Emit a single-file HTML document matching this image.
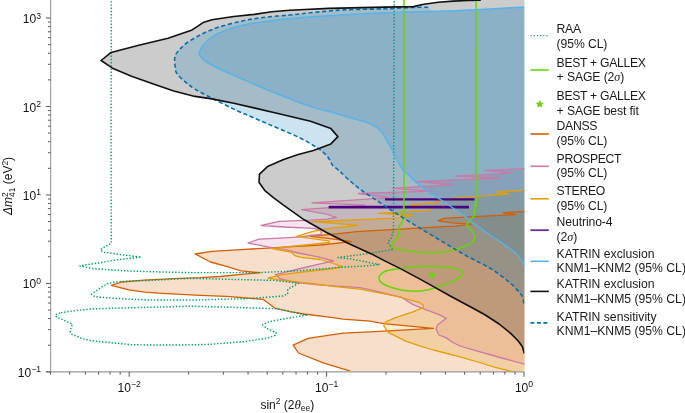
<!DOCTYPE html>
<html><head><meta charset="utf-8"><style>
html,body{margin:0;padding:0;background:#fff;width:685px;height:413px;overflow:hidden}
svg{display:block;will-change:transform}
</style></head><body>
<svg width="685" height="413" viewBox="0 0 685 413">
<defs><clipPath id="pc"><rect x="51" y="0" width="473.4" height="371.8"/></clipPath></defs>
<g clip-path="url(#pc)">
<path d="M525.0,168.7 L484.4,170.4 L511.2,173.0 L455.3,176.1 L499.7,178.0 L416.2,181.6 L453.0,184.5 L392.0,188.3 L431.5,191.1 L358.3,193.5 L389.0,197.6 L311.9,202.8 L365.0,205.2 L301.7,209.7 L311.9,211.6 L326.5,214.1 L336.5,217.6 L326.0,219.2 L310.7,220.2 L279.4,221.4 L261.2,225.5 L283.8,227.0 L313.7,228.4 L320.9,230.4 L321.3,234.3 L310.7,235.5 L300.4,236.8 L280.0,238.1 L259.0,239.1 L248.0,243.0 L269.2,247.1 L283.8,249.3 L298.4,253.0 L320.3,257.3 L333.4,261.0 L320.3,263.9 L298.4,269.0 L283.8,272.7 L275.3,274.6 L280.4,279.0 L296.5,282.6 L318.4,284.8 L360.0,287.7 L373.0,290.4 L401.3,297.3 L413.0,304.6 L427.6,310.4 L439.0,314.7 L446.3,318.3 L437.6,324.9 L436.1,329.2 L439.0,335.0 L446.3,337.9 L452.0,342.0 L460.0,346.0 L473.9,350.2 L500.0,357.5 L525.0,364.3 L525,373 Z" fill="#CC79A7" fill-opacity="0.2"/>
<path d="M525.0,190.1 L496.5,192.0 L508.9,193.8 L496.6,194.8 L455.3,197.8 L439.9,200.6 L433.8,202.9 L409.6,204.6 L428.0,207.8 L430.0,210.2 L411.8,211.4 L395.7,212.4 L378.2,213.4 L400.0,214.6 L412.5,215.3 L395.7,218.2 L359.2,219.7 L330.0,221.0 L311.9,221.6 L333.8,223.3 L357.4,225.4 L330.9,228.1 L320.7,229.7 L310.4,232.2 L296.6,236.3 L310.4,238.3 L328.8,240.9 L329.3,242.4 L310.4,244.5 L290.0,246.5 L272.1,248.6 L283.8,250.8 L291.1,252.2 L295.5,255.9 L301.3,257.3 L320.3,259.5 L333.0,263.5 L342.5,266.6 L333.0,268.5 L311.1,271.0 L281.9,274.6 L268.0,278.2 L281.9,280.4 L311.1,283.4 L333.0,286.3 L360.0,289.2 L398.4,296.6 L418.7,302.3 L423.5,305.2 L423.1,307.6 L413.0,311.9 L395.5,317.7 L385.3,322.1 L383.8,325.8 L388.2,332.3 L405.7,341.1 L420.3,346.2 L433.4,350.0 L460.0,356.8 L481.2,363.0 L495.3,367.4 L509.5,370.9 L514.8,372.2 L516.0,373.0 L525.0,373.0 Z" fill="#E69F00" fill-opacity="0.2"/>
<path d="M525.0,211.3 L503.0,212.8 L515.0,214.7 L468.8,216.8 L444.0,218.3 L438.1,220.8 L454.2,223.2 L471.0,224.1 L454.2,226.2 L425.0,227.6 L388.4,229.9 L359.2,231.4 L336.0,233.8 L310.4,236.3 L336.0,239.4 L351.3,241.6 L320.7,245.0 L283.8,247.1 L271.8,247.8 L241.1,249.6 L211.9,251.4 L195.1,254.0 L210.4,262.0 L226.5,266.4 L241.1,270.8 L260.1,272.7 L241.1,274.4 L220.0,276.5 L200.0,277.7 L173.0,278.7 L143.8,280.1 L121.9,282.0 L111.4,285.3 L128.8,289.9 L145.0,292.1 L158.4,293.2 L200.0,295.4 L226.5,296.4 L263.0,299.3 L274.7,308.1 L290.0,311.7 L303.8,314.0 L333.0,317.7 L343.0,319.1 L370.0,321.1 L383.8,323.6 L433.4,328.3 L383.8,331.2 L370.0,331.8 L343.0,333.2 L308.0,338.4 L293.1,345.2 L298.5,353.0 L324.0,363.2 L350.3,371.2 L353.0,373.0 L525.0,373.0 Z" fill="#D55E00" fill-opacity="0.2"/>
<path d="M480.4,-2.0 L480.0,0.3 L467.6,0.5 L453.0,1.1 L438.4,2.3 L423.8,4.2 L413.6,6.6 L385.0,7.1 L328.8,8.4 L290.0,10.2 L271.8,11.7 L254.2,14.4 L233.8,16.5 L211.9,19.7 L203.1,22.6 L192.1,29.9 L168.0,38.2 L138.8,45.3 L111.1,52.4 L101.1,60.5 L112.5,68.2 L131.5,76.3 L153.4,84.0 L173.8,90.9 L195.0,96.4 L211.9,98.9 L233.8,103.3 L255.0,108.1 L276.9,113.2 L310.5,121.3 L330.9,128.6 L337.9,136.6 L330.9,143.9 L313.4,150.5 L298.2,154.5 L283.6,159.6 L267.5,166.6 L259.5,174.2 L259.0,182.2 L264.6,190.3 L273.4,197.6 L282.8,204.6 L304.2,219.8 L326.1,232.2 L348.0,243.2 L371.4,253.9 L384.2,260.6 L399.9,268.4 L420.0,279.1 L435.7,287.9 L450.2,296.0 L468.4,305.7 L484.5,314.5 L499.1,324.0 L510.7,333.4 L518.0,340.7 L522.3,346.5 L523.8,351.6 L524.3,353.5 L525,373 L525,-2 Z" fill="#000" fill-opacity="0.2"/>
<path d="M428.2,7.3 C425.7,7.3 420.2,7.2 413.0,7.4 C405.8,7.7 396.6,8.4 385.0,8.8 C373.4,9.2 355.2,9.3 343.4,9.9 C331.6,10.5 323.1,11.6 314.2,12.4 C305.3,13.2 298.5,14.2 290.0,15.0 C281.5,15.8 271.1,16.5 263.0,17.5 C254.8,18.5 248.4,19.6 241.1,21.2 C233.8,22.8 225.3,25.1 219.2,27.0 C213.1,28.9 208.6,31.0 204.6,32.8 C200.6,34.6 198.1,35.9 195.0,37.7 C191.9,39.5 188.6,41.5 186.0,43.5 C183.4,45.5 181.4,47.7 179.7,49.6 C177.9,51.5 176.3,53.1 175.5,55.0 C174.7,56.9 174.6,59.0 174.6,61.0 C174.6,63.0 174.9,64.9 175.3,67.0 C175.7,69.1 175.1,70.9 176.8,73.4 C178.5,75.9 182.5,79.5 185.5,82.1 C188.5,84.7 190.6,86.4 195.0,89.1 C199.4,91.8 205.4,94.9 211.9,98.2 C218.4,101.5 226.6,105.7 233.8,109.1 C241.0,112.5 247.8,115.3 255.0,118.4 C262.2,121.5 269.6,124.6 276.9,127.8 C284.2,130.9 292.7,134.4 298.8,137.3 C304.9,140.2 309.9,143.4 313.4,145.5 C316.9,147.6 317.9,148.1 320.0,149.7 C322.1,151.3 324.4,153.3 326.0,155.0 C327.6,156.7 328.6,158.2 329.7,159.9 C330.8,161.6 331.0,163.3 332.6,165.2 C334.2,167.0 336.8,168.7 339.4,171.0 C342.0,173.3 344.7,176.2 348.1,179.2 C351.5,182.2 355.2,185.6 360.0,189.2 C364.8,192.8 371.2,196.7 377.0,200.6 C382.8,204.5 388.4,208.3 395.0,212.6 C401.6,216.9 408.6,221.2 416.8,226.2 C425.0,231.2 436.0,237.8 444.0,242.6 C452.0,247.4 458.2,251.2 465.0,255.0 C471.8,258.8 479.9,262.6 485.0,265.4 C490.1,268.2 492.3,269.5 495.9,272.0 C499.5,274.5 503.9,277.9 506.8,280.2 C509.7,282.4 511.2,283.8 513.0,285.5 C514.8,287.2 516.4,289.0 517.7,290.5 C519.0,292.0 520.2,293.4 521.0,294.5 C521.8,295.6 522.1,295.7 522.6,297.0 C523.1,298.3 523.4,301.3 523.7,302.5 C524.0,303.7 524.2,303.8 524.3,304.0 L525,373 L525,7.0 L480,9.6 L432,11.4 Z" fill="#0072B2" fill-opacity="0.2"/>
<path d="M524.3,7.0 C516.9,7.4 495.7,8.8 480.0,9.6 C464.3,10.3 445.8,11.0 430.0,11.5 C414.2,12.0 401.9,12.1 385.0,12.8 C368.1,13.5 345.5,14.8 328.8,15.8 C312.1,16.8 294.8,18.1 285.0,19.0 C275.2,19.9 276.4,20.0 270.3,20.9 C264.2,21.8 255.7,22.6 248.4,24.1 C241.1,25.6 232.6,27.7 226.5,29.9 C220.4,32.1 215.8,34.6 211.9,37.2 C208.0,39.8 205.2,42.7 203.1,45.3 C201.0,47.9 199.8,50.8 199.3,52.6 C198.8,54.4 199.1,54.5 200.2,56.0 C201.3,57.5 202.9,59.5 206.1,61.7 C209.3,63.9 213.4,66.2 219.2,69.0 C225.0,71.8 233.8,75.3 241.1,78.5 C248.4,81.7 254.8,84.6 263.0,88.0 C271.1,91.4 281.6,95.7 290.0,98.9 C298.4,102.1 305.9,105.1 313.4,107.4 C320.8,109.8 327.8,111.0 334.7,113.0 C341.6,115.0 349.2,117.4 355.0,119.1 C360.8,120.8 365.1,121.6 369.3,123.4 C373.5,125.2 377.2,127.6 380.0,130.2 C382.8,132.8 384.1,135.9 386.0,139.0 C387.9,142.1 390.2,146.2 391.6,149.0 C393.0,151.8 393.2,153.9 394.2,155.8 C395.2,157.8 395.9,158.3 397.4,160.7 C398.9,163.1 401.1,167.9 403.0,170.4 C404.9,172.9 406.6,173.3 409.0,175.5 C411.4,177.7 414.1,180.7 417.6,183.6 C421.1,186.5 425.4,189.9 430.0,193.1 C434.6,196.2 439.7,198.9 445.0,202.5 C450.3,206.1 456.4,210.3 462.0,214.4 C467.6,218.5 473.3,223.0 478.9,227.1 C484.5,231.2 491.4,236.0 495.8,239.0 C500.2,242.0 502.2,243.3 505.0,245.3 C507.8,247.3 510.6,249.1 512.8,250.8 C515.0,252.5 516.6,253.9 518.0,255.5 C519.4,257.1 520.4,258.8 521.3,260.2 C522.2,261.6 523.0,262.7 523.5,264.0 C524.0,265.3 524.3,267.3 524.5,268.0 L525,373 Z" fill="#0072B2" fill-opacity="0.15"/>
<path d="M525.0,211.3 L503.0,212.8 L515.0,214.7 L468.8,216.8 L444.0,218.3 L438.1,220.8 L454.2,223.2 L471.0,224.1 L454.2,226.2 L425.0,227.6 L388.4,229.9 L359.2,231.4 L336.0,233.8 L310.4,236.3 L336.0,239.4 L351.3,241.6 L320.7,245.0 L283.8,247.1 L271.8,247.8 L241.1,249.6 L211.9,251.4 L195.1,254.0 L210.4,262.0 L226.5,266.4 L241.1,270.8 L260.1,272.7 L241.1,274.4 L220.0,276.5 L200.0,277.7 L173.0,278.7 L143.8,280.1 L121.9,282.0 L111.4,285.3 L128.8,289.9 L145.0,292.1 L158.4,293.2 L200.0,295.4 L226.5,296.4 L263.0,299.3 L274.7,308.1 L290.0,311.7 L303.8,314.0 L333.0,317.7 L343.0,319.1 L370.0,321.1 L383.8,323.6 L433.4,328.3 L383.8,331.2 L370.0,331.8 L343.0,333.2 L308.0,338.4 L293.1,345.2 L298.5,353.0 L324.0,363.2 L350.3,371.2" fill="none" stroke="#D55E00" stroke-width="1.3" stroke-linejoin="round"/>
<path d="M525.0,168.7 L484.4,170.4 L511.2,173.0 L455.3,176.1 L499.7,178.0 L416.2,181.6 L453.0,184.5 L392.0,188.3 L431.5,191.1 L358.3,193.5 L389.0,197.6 L311.9,202.8 L365.0,205.2 L301.7,209.7 L311.9,211.6 L326.5,214.1 L336.5,217.6 L326.0,219.2 L310.7,220.2 L279.4,221.4 L261.2,225.5 L283.8,227.0 L313.7,228.4 L320.9,230.4 L321.3,234.3 L310.7,235.5 L300.4,236.8 L280.0,238.1 L259.0,239.1 L248.0,243.0 L269.2,247.1 L283.8,249.3 L298.4,253.0 L320.3,257.3 L333.4,261.0 L320.3,263.9 L298.4,269.0 L283.8,272.7 L275.3,274.6 L280.4,279.0 L296.5,282.6 L318.4,284.8 L360.0,287.7 L373.0,290.4 L401.3,297.3 L413.0,304.6 L427.6,310.4 L439.0,314.7 L446.3,318.3 L437.6,324.9 L436.1,329.2 L439.0,335.0 L446.3,337.9 L452.0,342.0 L460.0,346.0 L473.9,350.2 L500.0,357.5 L525.0,364.3" fill="none" stroke="#CC79A7" stroke-width="1.3" stroke-linejoin="round"/>
<path d="M525.0,190.1 L496.5,192.0 L508.9,193.8 L496.6,194.8 L455.3,197.8 L439.9,200.6 L433.8,202.9 L409.6,204.6 L428.0,207.8 L430.0,210.2 L411.8,211.4 L395.7,212.4 L378.2,213.4 L400.0,214.6 L412.5,215.3 L395.7,218.2 L359.2,219.7 L330.0,221.0 L311.9,221.6 L333.8,223.3 L357.4,225.4 L330.9,228.1 L320.7,229.7 L310.4,232.2 L296.6,236.3 L310.4,238.3 L328.8,240.9 L329.3,242.4 L310.4,244.5 L290.0,246.5 L272.1,248.6 L283.8,250.8 L291.1,252.2 L295.5,255.9 L301.3,257.3 L320.3,259.5 L333.0,263.5 L342.5,266.6 L333.0,268.5 L311.1,271.0 L281.9,274.6 L268.0,278.2 L281.9,280.4 L311.1,283.4 L333.0,286.3 L360.0,289.2 L398.4,296.6 L418.7,302.3 L423.5,305.2 L423.1,307.6 L413.0,311.9 L395.5,317.7 L385.3,322.1 L383.8,325.8 L388.2,332.3 L405.7,341.1 L420.3,346.2 L433.4,350.0 L460.0,356.8 L481.2,363.0 L495.3,367.4 L509.5,370.9 L514.8,372.2 L516.0,373.0" fill="none" stroke="#E69F00" stroke-width="1.3" stroke-linejoin="round"/>
<path d="M111.3,-2.0 L111.3,50.0 L111.0,120.0 L111.3,243.2 L100.4,249.5 L102.6,252.0 L123.0,254.9 L141.2,257.1 L115.7,260.0 L79.9,265.9 L93.8,268.8 L123.0,270.7 L150.0,271.7 L190.0,272.6 L259.0,272.6 L300.0,270.7 L343.8,267.0 L365.7,266.0 L379.6,264.5 L351.1,259.0 L338.0,257.5 L365.7,253.9 L393.4,249.5 L389.9,245.3 L387.7,242.3 L391.3,238.0 L393.5,230.7 L393.8,120.0 L394.2,-2.0" fill="none" stroke="#009E73" stroke-width="1.45" stroke-dasharray="1.4 1.8" stroke-linejoin="round"/>
<path d="M106.9,283.8 L115.6,282.0 L128.8,281.1 L149.8,280.4 L190.0,278.4 L274.6,280.4 L298.7,283.4 L287.7,289.2 L287.7,294.0 L283.0,296.0 L260.0,297.7 L248.4,298.6 L190.0,300.1 L149.8,300.0 L128.8,299.1 L111.3,298.2 L94.6,296.5 L91.6,294.3 L98.1,289.4 L106.9,283.8" fill="none" stroke="#009E73" stroke-width="1.45" stroke-dasharray="1.4 1.8" stroke-linejoin="round"/>
<path d="M60.9,312.6 L77.2,310.4 L93.6,308.8 L108.8,308.3 L149.8,307.3 L190.0,306.2 L248.4,307.8 L277.6,308.8 L290.0,311.5 L306.5,315.0 L279.8,319.6 L268.9,321.8 L262.6,325.0 L267.1,328.7 L276.2,332.7 L275.3,335.4 L267.1,338.1 L243.5,341.7 L210.0,344.3 L183.0,345.0 L153.8,345.1 L131.9,344.7 L110.0,342.6 L93.6,341.0 L82.7,338.8 L71.8,334.2 L70.2,331.7 L70.7,329.0 L72.3,324.1 L66.3,321.3 L56.5,317.0 L55.4,314.8 L60.9,312.6" fill="none" stroke="#009E73" stroke-width="1.45" stroke-dasharray="1.4 1.8" stroke-linejoin="round"/>
<path d="M385,199.4 L474.5,199.4" stroke="#4b0082" stroke-width="2.3" fill="none"/>
<path d="M328.7,207.1 L469,207.1" stroke="#4b0082" stroke-width="2.8" fill="none"/>
<path d="M404.0,-2.0 C404.0,30.0 404.1,155.2 404.0,190.0 C403.9,224.8 403.8,202.7 403.6,207.0 C403.4,211.3 403.0,213.6 402.8,216.0 C402.6,218.4 403.0,219.9 402.5,221.5 C402.0,223.1 400.3,223.9 399.6,225.4 C398.9,226.9 398.5,228.7 398.2,230.5 C397.9,232.3 398.6,234.6 398.0,236.3 C397.4,238.0 395.5,239.4 394.5,240.7 C393.5,242.0 392.0,243.1 391.8,244.3 C391.6,245.5 391.4,246.9 393.1,247.9 C394.8,248.9 397.9,249.4 401.8,250.1 C405.7,250.8 411.6,251.6 416.3,252.0 C421.0,252.4 426.1,252.6 430.0,252.6 C433.9,252.6 437.5,252.3 440.0,252.2 C442.5,252.0 442.8,252.1 445.0,251.7 C447.2,251.3 450.1,251.0 453.5,250.0 C456.9,249.0 462.1,247.2 465.3,245.8 C468.6,244.4 471.4,243.1 473.0,241.5 C474.6,239.9 474.8,238.1 474.7,236.4 C474.6,234.7 473.4,233.2 472.1,231.4 C470.8,229.6 467.6,227.0 467.0,225.4 C466.4,223.8 467.6,223.6 468.7,222.0 C469.8,220.4 472.8,218.1 473.8,216.1 C474.8,214.1 474.4,212.9 474.7,210.2 C475.0,207.5 475.5,203.4 475.7,200.0 C475.9,196.6 476.0,223.7 476.1,190.0 C476.2,156.3 476.1,30.0 476.1,-2.0" fill="none" stroke="#66d60a" stroke-width="1.5" stroke-linejoin="round"/>
<path d="M378.9,277.8 C378.9,276.5 379.6,275.4 380.8,274.3 C382.0,273.2 382.6,272.0 386.0,271.0 C389.4,270.0 395.3,269.0 401.5,268.2 C407.7,267.4 416.1,266.5 423.4,266.3 C430.7,266.1 439.8,266.4 445.3,266.8 C450.8,267.2 453.6,268.1 456.3,268.8 C459.0,269.5 460.7,270.3 461.7,271.2 C462.7,272.1 463.2,272.9 462.3,274.2 C461.4,275.5 459.3,277.4 456.3,279.1 C453.3,280.8 448.2,282.9 444.2,284.5 C440.2,286.1 436.5,287.6 432.1,288.7 C427.7,289.8 422.7,290.9 418.0,291.2 C413.3,291.5 408.7,291.2 404.0,290.5 C399.3,289.8 393.8,288.4 390.0,287.0 C386.2,285.6 382.9,283.8 381.0,282.3 C379.1,280.8 378.9,279.1 378.9,277.8 Z" fill="none" stroke="#66d60a" stroke-width="1.5" stroke-linejoin="round"/>
<path d="M524.3,7.0 C516.9,7.4 495.7,8.8 480.0,9.6 C464.3,10.3 445.8,11.0 430.0,11.5 C414.2,12.0 401.9,12.1 385.0,12.8 C368.1,13.5 345.5,14.8 328.8,15.8 C312.1,16.8 294.8,18.1 285.0,19.0 C275.2,19.9 276.4,20.0 270.3,20.9 C264.2,21.8 255.7,22.6 248.4,24.1 C241.1,25.6 232.6,27.7 226.5,29.9 C220.4,32.1 215.8,34.6 211.9,37.2 C208.0,39.8 205.2,42.7 203.1,45.3 C201.0,47.9 199.8,50.8 199.3,52.6 C198.8,54.4 199.1,54.5 200.2,56.0 C201.3,57.5 202.9,59.5 206.1,61.7 C209.3,63.9 213.4,66.2 219.2,69.0 C225.0,71.8 233.8,75.3 241.1,78.5 C248.4,81.7 254.8,84.6 263.0,88.0 C271.1,91.4 281.6,95.7 290.0,98.9 C298.4,102.1 305.9,105.1 313.4,107.4 C320.8,109.8 327.8,111.0 334.7,113.0 C341.6,115.0 349.2,117.4 355.0,119.1 C360.8,120.8 365.1,121.6 369.3,123.4 C373.5,125.2 377.2,127.6 380.0,130.2 C382.8,132.8 384.1,135.9 386.0,139.0 C387.9,142.1 390.2,146.2 391.6,149.0 C393.0,151.8 393.2,153.9 394.2,155.8 C395.2,157.8 395.9,158.3 397.4,160.7 C398.9,163.1 401.1,167.9 403.0,170.4 C404.9,172.9 406.6,173.3 409.0,175.5 C411.4,177.7 414.1,180.7 417.6,183.6 C421.1,186.5 425.4,189.9 430.0,193.1 C434.6,196.2 439.7,198.9 445.0,202.5 C450.3,206.1 456.4,210.3 462.0,214.4 C467.6,218.5 473.3,223.0 478.9,227.1 C484.5,231.2 491.4,236.0 495.8,239.0 C500.2,242.0 502.2,243.3 505.0,245.3 C507.8,247.3 510.6,249.1 512.8,250.8 C515.0,252.5 516.6,253.9 518.0,255.5 C519.4,257.1 520.4,258.8 521.3,260.2 C522.2,261.6 523.0,262.7 523.5,264.0 C524.0,265.3 524.3,267.3 524.5,268.0" fill="none" stroke="#56B4E9" stroke-width="1.5" stroke-linejoin="round"/>
<path d="M428.2,7.3 C425.7,7.3 420.2,7.2 413.0,7.4 C405.8,7.7 396.6,8.4 385.0,8.8 C373.4,9.2 355.2,9.3 343.4,9.9 C331.6,10.5 323.1,11.6 314.2,12.4 C305.3,13.2 298.5,14.2 290.0,15.0 C281.5,15.8 271.1,16.5 263.0,17.5 C254.8,18.5 248.4,19.6 241.1,21.2 C233.8,22.8 225.3,25.1 219.2,27.0 C213.1,28.9 208.6,31.0 204.6,32.8 C200.6,34.6 198.1,35.9 195.0,37.7 C191.9,39.5 188.6,41.5 186.0,43.5 C183.4,45.5 181.4,47.7 179.7,49.6 C177.9,51.5 176.3,53.1 175.5,55.0 C174.7,56.9 174.6,59.0 174.6,61.0 C174.6,63.0 174.9,64.9 175.3,67.0 C175.7,69.1 175.1,70.9 176.8,73.4 C178.5,75.9 182.5,79.5 185.5,82.1 C188.5,84.7 190.6,86.4 195.0,89.1 C199.4,91.8 205.4,94.9 211.9,98.2 C218.4,101.5 226.6,105.7 233.8,109.1 C241.0,112.5 247.8,115.3 255.0,118.4 C262.2,121.5 269.6,124.6 276.9,127.8 C284.2,130.9 292.7,134.4 298.8,137.3 C304.9,140.2 309.9,143.4 313.4,145.5 C316.9,147.6 317.9,148.1 320.0,149.7 C322.1,151.3 324.4,153.3 326.0,155.0 C327.6,156.7 328.6,158.2 329.7,159.9 C330.8,161.6 331.0,163.3 332.6,165.2 C334.2,167.0 336.8,168.7 339.4,171.0 C342.0,173.3 344.7,176.2 348.1,179.2 C351.5,182.2 355.2,185.6 360.0,189.2 C364.8,192.8 371.2,196.7 377.0,200.6 C382.8,204.5 388.4,208.3 395.0,212.6 C401.6,216.9 408.6,221.2 416.8,226.2 C425.0,231.2 436.0,237.8 444.0,242.6 C452.0,247.4 458.2,251.2 465.0,255.0 C471.8,258.8 479.9,262.6 485.0,265.4 C490.1,268.2 492.3,269.5 495.9,272.0 C499.5,274.5 503.9,277.9 506.8,280.2 C509.7,282.4 511.2,283.8 513.0,285.5 C514.8,287.2 516.4,289.0 517.7,290.5 C519.0,292.0 520.2,293.4 521.0,294.5 C521.8,295.6 522.1,295.7 522.6,297.0 C523.1,298.3 523.4,301.3 523.7,302.5 C524.0,303.7 524.2,303.8 524.3,304.0" fill="none" stroke="#0072B2" stroke-width="1.6" stroke-dasharray="4.2 2.6"/>
<path d="M480.4,-2.0 L480.0,0.3 L467.6,0.5 L453.0,1.1 L438.4,2.3 L423.8,4.2 L413.6,6.6 L385.0,7.1 L328.8,8.4 L290.0,10.2 L271.8,11.7 L254.2,14.4 L233.8,16.5 L211.9,19.7 L203.1,22.6 L192.1,29.9 L168.0,38.2 L138.8,45.3 L111.1,52.4 L101.1,60.5 L112.5,68.2 L131.5,76.3 L153.4,84.0 L173.8,90.9 L195.0,96.4 L211.9,98.9 L233.8,103.3 L255.0,108.1 L276.9,113.2 L310.5,121.3 L330.9,128.6 L337.9,136.6 L330.9,143.9 L313.4,150.5 L298.2,154.5 L283.6,159.6 L267.5,166.6 L259.5,174.2 L259.0,182.2 L264.6,190.3 L273.4,197.6 L282.8,204.6 L304.2,219.8 L326.1,232.2 L348.0,243.2 L371.4,253.9 L384.2,260.6 L399.9,268.4 L420.0,279.1 L435.7,287.9 L450.2,296.0 L468.4,305.7 L484.5,314.5 L499.1,324.0 L510.7,333.4 L518.0,340.7 L522.3,346.5 L523.8,351.6 L524.3,353.5" fill="none" stroke="#111" stroke-width="1.6" stroke-linejoin="round"/>
<polygon points="431.50,270.90 432.70,273.34 435.40,273.73 433.45,275.63 433.91,278.32 431.50,277.05 429.09,278.32 429.55,275.63 427.60,273.73 430.30,273.34" fill="#66d60a"/>
</g>
<g stroke="#9a9a9a" stroke-width="1.1" fill="none">
<line x1="50.65" y1="0" x2="50.65" y2="372.4"/>
<line x1="46.15" y1="371.9" x2="524.0" y2="371.9"/>
</g>
<g stroke="#555" stroke-width="1" fill="none">
<line x1="45.949999999999996" y1="371.85" x2="50.65" y2="371.85"/>
<line x1="47.949999999999996" y1="345.22" x2="50.65" y2="345.22"/>
<line x1="47.949999999999996" y1="329.65" x2="50.65" y2="329.65"/>
<line x1="47.949999999999996" y1="318.60" x2="50.65" y2="318.60"/>
<line x1="47.949999999999996" y1="310.03" x2="50.65" y2="310.03"/>
<line x1="47.949999999999996" y1="303.02" x2="50.65" y2="303.02"/>
<line x1="47.949999999999996" y1="297.10" x2="50.65" y2="297.10"/>
<line x1="47.949999999999996" y1="291.97" x2="50.65" y2="291.97"/>
<line x1="47.949999999999996" y1="287.45" x2="50.65" y2="287.45"/>
<line x1="45.949999999999996" y1="283.40" x2="50.65" y2="283.40"/>
<line x1="47.949999999999996" y1="256.77" x2="50.65" y2="256.77"/>
<line x1="47.949999999999996" y1="241.20" x2="50.65" y2="241.20"/>
<line x1="47.949999999999996" y1="230.15" x2="50.65" y2="230.15"/>
<line x1="47.949999999999996" y1="221.58" x2="50.65" y2="221.58"/>
<line x1="47.949999999999996" y1="214.57" x2="50.65" y2="214.57"/>
<line x1="47.949999999999996" y1="208.65" x2="50.65" y2="208.65"/>
<line x1="47.949999999999996" y1="203.52" x2="50.65" y2="203.52"/>
<line x1="47.949999999999996" y1="199.00" x2="50.65" y2="199.00"/>
<line x1="45.949999999999996" y1="194.95" x2="50.65" y2="194.95"/>
<line x1="47.949999999999996" y1="168.32" x2="50.65" y2="168.32"/>
<line x1="47.949999999999996" y1="152.75" x2="50.65" y2="152.75"/>
<line x1="47.949999999999996" y1="141.70" x2="50.65" y2="141.70"/>
<line x1="47.949999999999996" y1="133.13" x2="50.65" y2="133.13"/>
<line x1="47.949999999999996" y1="126.12" x2="50.65" y2="126.12"/>
<line x1="47.949999999999996" y1="120.20" x2="50.65" y2="120.20"/>
<line x1="47.949999999999996" y1="115.07" x2="50.65" y2="115.07"/>
<line x1="47.949999999999996" y1="110.55" x2="50.65" y2="110.55"/>
<line x1="45.949999999999996" y1="106.50" x2="50.65" y2="106.50"/>
<line x1="47.949999999999996" y1="79.87" x2="50.65" y2="79.87"/>
<line x1="47.949999999999996" y1="64.30" x2="50.65" y2="64.30"/>
<line x1="47.949999999999996" y1="53.25" x2="50.65" y2="53.25"/>
<line x1="47.949999999999996" y1="44.68" x2="50.65" y2="44.68"/>
<line x1="47.949999999999996" y1="37.67" x2="50.65" y2="37.67"/>
<line x1="47.949999999999996" y1="31.75" x2="50.65" y2="31.75"/>
<line x1="47.949999999999996" y1="26.62" x2="50.65" y2="26.62"/>
<line x1="47.949999999999996" y1="22.10" x2="50.65" y2="22.10"/>
<line x1="45.949999999999996" y1="18.05" x2="50.65" y2="18.05"/>
<line x1="50.65" y1="371.9" x2="50.65" y2="374.59999999999997"/>
<line x1="69.78" y1="371.9" x2="69.78" y2="374.59999999999997"/>
<line x1="85.41" y1="371.9" x2="85.41" y2="374.59999999999997"/>
<line x1="98.62" y1="371.9" x2="98.62" y2="374.59999999999997"/>
<line x1="110.07" y1="371.9" x2="110.07" y2="374.59999999999997"/>
<line x1="120.17" y1="371.9" x2="120.17" y2="374.59999999999997"/>
<line x1="129.20" y1="371.9" x2="129.20" y2="376.7"/>
<line x1="188.62" y1="371.9" x2="188.62" y2="374.59999999999997"/>
<line x1="223.38" y1="371.9" x2="223.38" y2="374.59999999999997"/>
<line x1="248.05" y1="371.9" x2="248.05" y2="374.59999999999997"/>
<line x1="267.18" y1="371.9" x2="267.18" y2="374.59999999999997"/>
<line x1="282.81" y1="371.9" x2="282.81" y2="374.59999999999997"/>
<line x1="296.02" y1="371.9" x2="296.02" y2="374.59999999999997"/>
<line x1="307.47" y1="371.9" x2="307.47" y2="374.59999999999997"/>
<line x1="317.57" y1="371.9" x2="317.57" y2="374.59999999999997"/>
<line x1="326.60" y1="371.9" x2="326.60" y2="376.7"/>
<line x1="386.02" y1="371.9" x2="386.02" y2="374.59999999999997"/>
<line x1="420.78" y1="371.9" x2="420.78" y2="374.59999999999997"/>
<line x1="445.45" y1="371.9" x2="445.45" y2="374.59999999999997"/>
<line x1="464.58" y1="371.9" x2="464.58" y2="374.59999999999997"/>
<line x1="480.21" y1="371.9" x2="480.21" y2="374.59999999999997"/>
<line x1="493.42" y1="371.9" x2="493.42" y2="374.59999999999997"/>
<line x1="504.87" y1="371.9" x2="504.87" y2="374.59999999999997"/>
<line x1="514.97" y1="371.9" x2="514.97" y2="374.59999999999997"/>
<line x1="524.00" y1="371.9" x2="524.00" y2="376.7"/>
</g>
<text x="41" y="376.9" text-anchor="end" font-family="Liberation Sans, sans-serif" font-size="12" fill="#111">10<tspan font-size="8.6" dy="-4.6">−1</tspan></text>
<text x="41" y="288.4" text-anchor="end" font-family="Liberation Sans, sans-serif" font-size="12" fill="#111">10<tspan font-size="8.6" dy="-4.6">0</tspan></text>
<text x="41" y="200.0" text-anchor="end" font-family="Liberation Sans, sans-serif" font-size="12" fill="#111">10<tspan font-size="8.6" dy="-4.6">1</tspan></text>
<text x="41" y="111.5" text-anchor="end" font-family="Liberation Sans, sans-serif" font-size="12" fill="#111">10<tspan font-size="8.6" dy="-4.6">2</tspan></text>
<text x="41" y="23.1" text-anchor="end" font-family="Liberation Sans, sans-serif" font-size="12" fill="#111">10<tspan font-size="8.6" dy="-4.6">3</tspan></text>
<text x="129.2" y="391.8" text-anchor="middle" font-family="Liberation Sans, sans-serif" font-size="12" fill="#111">10<tspan font-size="8.6" dy="-4.6">−2</tspan></text>
<text x="326.6" y="391.8" text-anchor="middle" font-family="Liberation Sans, sans-serif" font-size="12" fill="#111">10<tspan font-size="8.6" dy="-4.6">−1</tspan></text>
<text x="524.0" y="391.8" text-anchor="middle" font-family="Liberation Sans, sans-serif" font-size="12" fill="#111">10<tspan font-size="8.6" dy="-4.6">0</tspan></text>
<text x="287.3" y="408.9" text-anchor="middle" font-family="Liberation Sans, sans-serif" font-size="12" fill="#111">sin<tspan font-size="8.4" dy="-4.5">2</tspan><tspan dy="4.5"> (2</tspan><tspan font-family="Liberation Serif, serif" font-style="italic" font-size="13">θ</tspan><tspan font-size="8.4" dy="2.5">ee</tspan><tspan dy="-2.5">)</tspan></text>
<text transform="translate(12.2,186) rotate(-90)" text-anchor="middle" font-family="Liberation Sans, sans-serif" font-size="12" fill="#111"><tspan font-style="italic">Δm</tspan><tspan font-size="8.4" dy="-4.5">2</tspan><tspan font-size="8.4" dx="-4.6" dy="7.5">41</tspan><tspan dy="-3"> (eV</tspan><tspan font-size="8.4" dy="-4.5">2</tspan><tspan dy="4.5">)</tspan></text>
<text x="556.6" y="32.9" font-family="Liberation Sans, sans-serif" font-size="12.2" letter-spacing="-0.3" fill="#1a1a1a">RAA</text>
<text x="556.6" y="47.5" font-family="Liberation Sans, sans-serif" font-size="12.2" letter-spacing="-0.1" fill="#1a1a1a">(95% CL)</text>
<line x1="530.4" y1="35.6" x2="548.8" y2="35.6" stroke="#009E73" stroke-width="1.3" stroke-dasharray="1.2 2"/>
<text x="556.6" y="66.8" font-family="Liberation Sans, sans-serif" font-size="12.2" letter-spacing="-0.3" fill="#1a1a1a">BEST + GALLEX</text>
<text x="556.6" y="81.4" font-family="Liberation Sans, sans-serif" font-size="12.2" letter-spacing="-0.1" fill="#1a1a1a">+ SAGE (2<tspan font-family="Liberation Serif, serif" font-style="italic">σ</tspan>)</text>
<line x1="530.4" y1="70.0" x2="548.8" y2="70.0" stroke="#66d60a" stroke-width="1.6"/>
<text x="556.6" y="99.9" font-family="Liberation Sans, sans-serif" font-size="12.2" letter-spacing="-0.3" fill="#1a1a1a">BEST + GALLEX</text>
<text x="556.6" y="114.5" font-family="Liberation Sans, sans-serif" font-size="12.2" letter-spacing="-0.1" fill="#1a1a1a">+ SAGE best fit</text>
<polygon points="539.70,100.10 540.90,102.54 543.60,102.93 541.65,104.83 542.11,107.52 539.70,106.25 537.29,107.52 537.75,104.83 535.80,102.93 538.50,102.54" fill="#66d60a"/>
<text x="556.6" y="129.9" font-family="Liberation Sans, sans-serif" font-size="12.2" letter-spacing="-0.3" fill="#1a1a1a">DANSS</text>
<text x="556.6" y="144.5" font-family="Liberation Sans, sans-serif" font-size="12.2" letter-spacing="-0.1" fill="#1a1a1a">(95% CL)</text>
<line x1="530.4" y1="134.0" x2="548.8" y2="134.0" stroke="#D55E00" stroke-width="1.6"/>
<text x="556.6" y="162.7" font-family="Liberation Sans, sans-serif" font-size="12.2" letter-spacing="-0.3" fill="#1a1a1a">PROSPECT</text>
<text x="556.6" y="177.3" font-family="Liberation Sans, sans-serif" font-size="12.2" letter-spacing="-0.1" fill="#1a1a1a">(95% CL)</text>
<line x1="530.4" y1="166.3" x2="548.8" y2="166.3" stroke="#CC79A7" stroke-width="1.6"/>
<text x="556.6" y="194.9" font-family="Liberation Sans, sans-serif" font-size="12.2" letter-spacing="-0.3" fill="#1a1a1a">STEREO</text>
<text x="556.6" y="209.5" font-family="Liberation Sans, sans-serif" font-size="12.2" letter-spacing="-0.1" fill="#1a1a1a">(95% CL)</text>
<line x1="530.4" y1="198.8" x2="548.8" y2="198.8" stroke="#E69F00" stroke-width="1.6"/>
<text x="556.6" y="226.2" font-family="Liberation Sans, sans-serif" font-size="12.2" letter-spacing="-0.1" fill="#1a1a1a">Neutrino-4</text>
<text x="556.6" y="240.8" font-family="Liberation Sans, sans-serif" font-size="12.2" letter-spacing="-0.1" fill="#1a1a1a">(2<tspan font-family="Liberation Serif, serif" font-style="italic">σ</tspan>)</text>
<line x1="530.4" y1="230.2" x2="548.8" y2="230.2" stroke="#6a2a98" stroke-width="1.8"/>
<text x="556.6" y="257.8" font-family="Liberation Sans, sans-serif" font-size="12.2" letter-spacing="0" fill="#1a1a1a">KATRIN exclusion</text>
<text x="556.6" y="272.4" font-family="Liberation Sans, sans-serif" font-size="12.2" letter-spacing="0" fill="#1a1a1a">KNM1–KNM2 (95% CL)</text>
<line x1="530.4" y1="261.3" x2="548.8" y2="261.3" stroke="#56B4E9" stroke-width="1.6"/>
<text x="556.6" y="287.9" font-family="Liberation Sans, sans-serif" font-size="12.2" letter-spacing="0" fill="#1a1a1a">KATRIN exclusion</text>
<text x="556.6" y="302.5" font-family="Liberation Sans, sans-serif" font-size="12.2" letter-spacing="0" fill="#1a1a1a">KNM1–KNM5 (95% CL)</text>
<line x1="530.4" y1="291.4" x2="548.8" y2="291.4" stroke="#111" stroke-width="1.6"/>
<text x="556.6" y="320.6" font-family="Liberation Sans, sans-serif" font-size="12.2" letter-spacing="0" fill="#1a1a1a">KATRIN sensitivity</text>
<text x="556.6" y="335.2" font-family="Liberation Sans, sans-serif" font-size="12.2" letter-spacing="0" fill="#1a1a1a">KNM1–KNM5 (95% CL)</text>
<line x1="530.4" y1="322.9" x2="548.8" y2="322.9" stroke="#0072B2" stroke-width="1.6" stroke-dasharray="4 2.5"/>
</svg>
</body></html>
